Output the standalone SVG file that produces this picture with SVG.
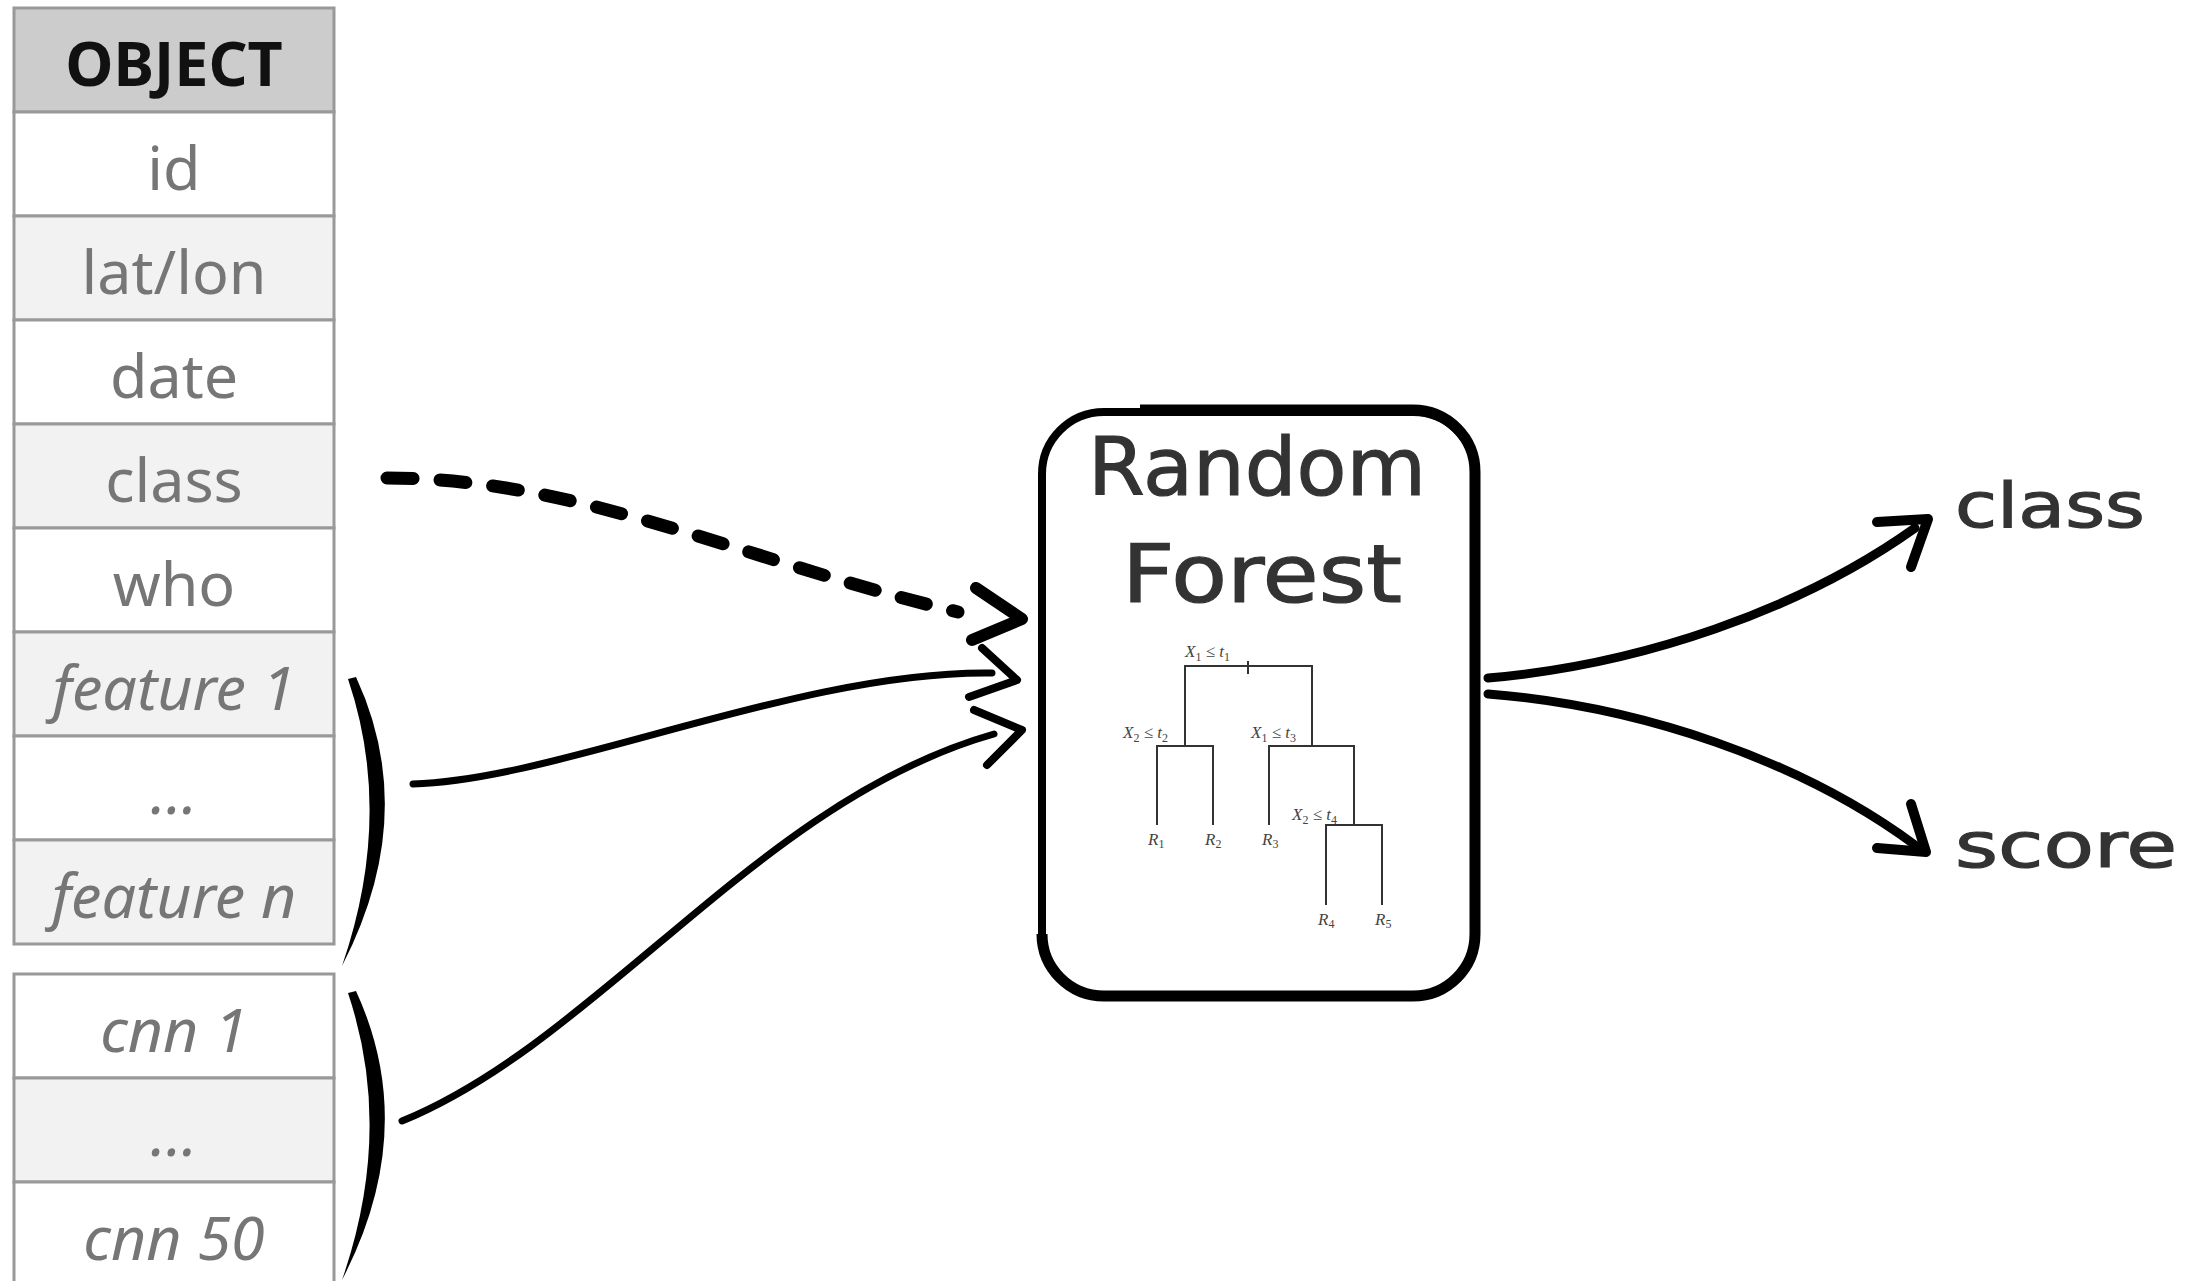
<svg xmlns="http://www.w3.org/2000/svg" width="2189" height="1281" viewBox="0 0 2189 1281">
<style>
.row{stroke:#999;stroke-width:3}
.hd{fill:#ccc}
.lt{fill:#f2f2f2}
.wh{fill:#fff}
.rt{font-family:"Noto Sans",sans-serif;font-size:61px;fill:#767676;text-anchor:middle}
.it{font-style:italic}
.ht{font-family:"Noto Sans",sans-serif;font-size:61px;font-weight:bold;fill:#111;text-anchor:middle}
.hand{font-family:"DejaVu Sans",sans-serif;fill:#333;stroke:#333;stroke-width:1.2}
.ln{fill:none;stroke:#000;stroke-linecap:round;stroke-linejoin:round}
.tr{fill:none;stroke:#333;stroke-width:2}
.tt{font-family:"Liberation Serif",serif;font-size:17px;fill:#444}
.brace{fill:#000}
</style>
<rect width="2189" height="1281" fill="#fff"/>
<g id="table">
<g id="row-object"><rect class="row hd" x="14" y="8" width="320" height="104"/><text class="ht" x="174" y="86">OBJECT</text></g>
<g id="row-id"><rect class="row wh" x="14" y="112" width="320" height="104"/><text class="rt" x="174" y="190">id</text></g>
<g id="row-latlon"><rect class="row lt" x="14" y="216" width="320" height="104"/><text class="rt" x="174" y="294">lat/lon</text></g>
<g id="row-date"><rect class="row wh" x="14" y="320" width="320" height="104"/><text class="rt" x="174" y="398">date</text></g>
<g id="row-class"><rect class="row lt" x="14" y="424" width="320" height="104"/><text class="rt" x="174" y="502">class</text></g>
<g id="row-who"><rect class="row wh" x="14" y="528" width="320" height="104"/><text class="rt" x="174" y="606">who</text></g>
<g id="row-feature1"><rect class="row lt" x="14" y="632" width="320" height="104"/><text class="rt it" x="174" y="710">feature 1</text></g>
<g id="row-fdots"><rect class="row wh" x="14" y="736" width="320" height="104"/><text class="rt it" x="174" y="814">...</text></g>
<g id="row-featuren"><rect class="row lt" x="14" y="840" width="320" height="104"/><text class="rt it" x="174" y="918">feature n</text></g>
</g>
<g id="cnn-table">
<g id="row-cnn1"><rect class="row wh" x="14" y="974" width="320" height="104"/><text class="rt it" x="174" y="1052">cnn 1</text></g>
<g id="row-cdots"><rect class="row lt" x="14" y="1078" width="320" height="104"/><text class="rt it" x="174" y="1156">...</text></g>
<g id="row-cnn50"><rect class="row wh" x="14" y="1182" width="320" height="110"/><text class="rt it" x="174" y="1260">cnn 50</text></g>
</g>
<g id="brace-features"><path class="brace" d="M356,677 Q420,815 342,966 Q394,815 348,679 Z"/></g>
<g id="brace-cnn"><path class="brace" d="M356,991 Q420,1130 342,1280 Q394,1130 348,993 Z"/></g>
<g id="random-forest">
<rect x="1042" y="412" width="433" height="584" rx="62" fill="#fff" stroke="#000" stroke-width="8"/>
<path d="M1140,410 H1413 A62,62 0 0 1 1475,472 V934 A62,62 0 0 1 1413,996 H1104 A62,62 0 0 1 1042,934" fill="none" stroke="#000" stroke-width="11"/>
<text class="hand" x="1088" y="495" font-size="80" textLength="338" lengthAdjust="spacingAndGlyphs">Random</text>
<text class="hand" x="1122" y="602" font-size="80" textLength="280" lengthAdjust="spacingAndGlyphs">Forest</text>
<g id="tree">
<path class="tr" d="M1185,746 V666 H1312 V746 M1248,661 V674 M1157,825 V746 H1213 V825 M1269,825 V746 H1354 V825 M1326,905 V825 H1382 V905"/>
<text class="tt" x="1185" y="657"><tspan font-style="italic">X</tspan><tspan font-size="12" dy="4">1</tspan><tspan dy="-4"> ≤ </tspan><tspan font-style="italic">t</tspan><tspan font-size="12" dy="4">1</tspan></text>
<text class="tt" x="1123" y="738"><tspan font-style="italic">X</tspan><tspan font-size="12" dy="4">2</tspan><tspan dy="-4"> ≤ </tspan><tspan font-style="italic">t</tspan><tspan font-size="12" dy="4">2</tspan></text>
<text class="tt" x="1251" y="738"><tspan font-style="italic">X</tspan><tspan font-size="12" dy="4">1</tspan><tspan dy="-4"> ≤ </tspan><tspan font-style="italic">t</tspan><tspan font-size="12" dy="4">3</tspan></text>
<text class="tt" x="1292" y="820"><tspan font-style="italic">X</tspan><tspan font-size="12" dy="4">2</tspan><tspan dy="-4"> ≤ </tspan><tspan font-style="italic">t</tspan><tspan font-size="12" dy="4">4</tspan></text>
<text class="tt" x="1148" y="845"><tspan font-style="italic">R</tspan><tspan font-size="12" dy="3">1</tspan></text>
<text class="tt" x="1205" y="845"><tspan font-style="italic">R</tspan><tspan font-size="12" dy="3">2</tspan></text>
<text class="tt" x="1262" y="845"><tspan font-style="italic">R</tspan><tspan font-size="12" dy="3">3</tspan></text>
<text class="tt" x="1318" y="925"><tspan font-style="italic">R</tspan><tspan font-size="12" dy="3">4</tspan></text>
<text class="tt" x="1375" y="925"><tspan font-style="italic">R</tspan><tspan font-size="12" dy="3">5</tspan></text>
</g>
</g>
<g id="out-class"><text class="hand" x="1955" y="527" font-size="62" textLength="190" lengthAdjust="spacingAndGlyphs">class</text></g>
<g id="out-score"><text class="hand" x="1955" y="867" font-size="62" textLength="222" lengthAdjust="spacingAndGlyphs">score</text></g>
<g id="connectors">
<path class="ln" d="M387,478 C580,478 740,560 958,612" stroke-width="13" stroke-dasharray="26 27" stroke-linecap="butt"/>
<path class="ln" d="M976,588 L1022,619 L972,640" stroke-width="12"/>
<path class="ln" d="M413,784 C560,780 800,670 992,673" stroke-width="7"/>
<path class="ln" d="M982,648 L1017,680 L969,697" stroke-width="8"/>
<path class="ln" d="M402,1121 C600,1040 760,800 994,734" stroke-width="7"/>
<path class="ln" d="M974,710 L1022,730 L987,765" stroke-width="8"/>
<path class="ln" d="M1488,678 C1640,665 1800,610 1915,528" stroke-width="9"/>
<path class="ln" d="M1877,522 L1928,519 L1911,567" stroke-width="10"/>
<path class="ln" d="M1488,694 C1640,706 1800,760 1915,845" stroke-width="9"/>
<path class="ln" d="M1877,848 L1926,852 L1911,804" stroke-width="10"/>
</g>
</svg>
